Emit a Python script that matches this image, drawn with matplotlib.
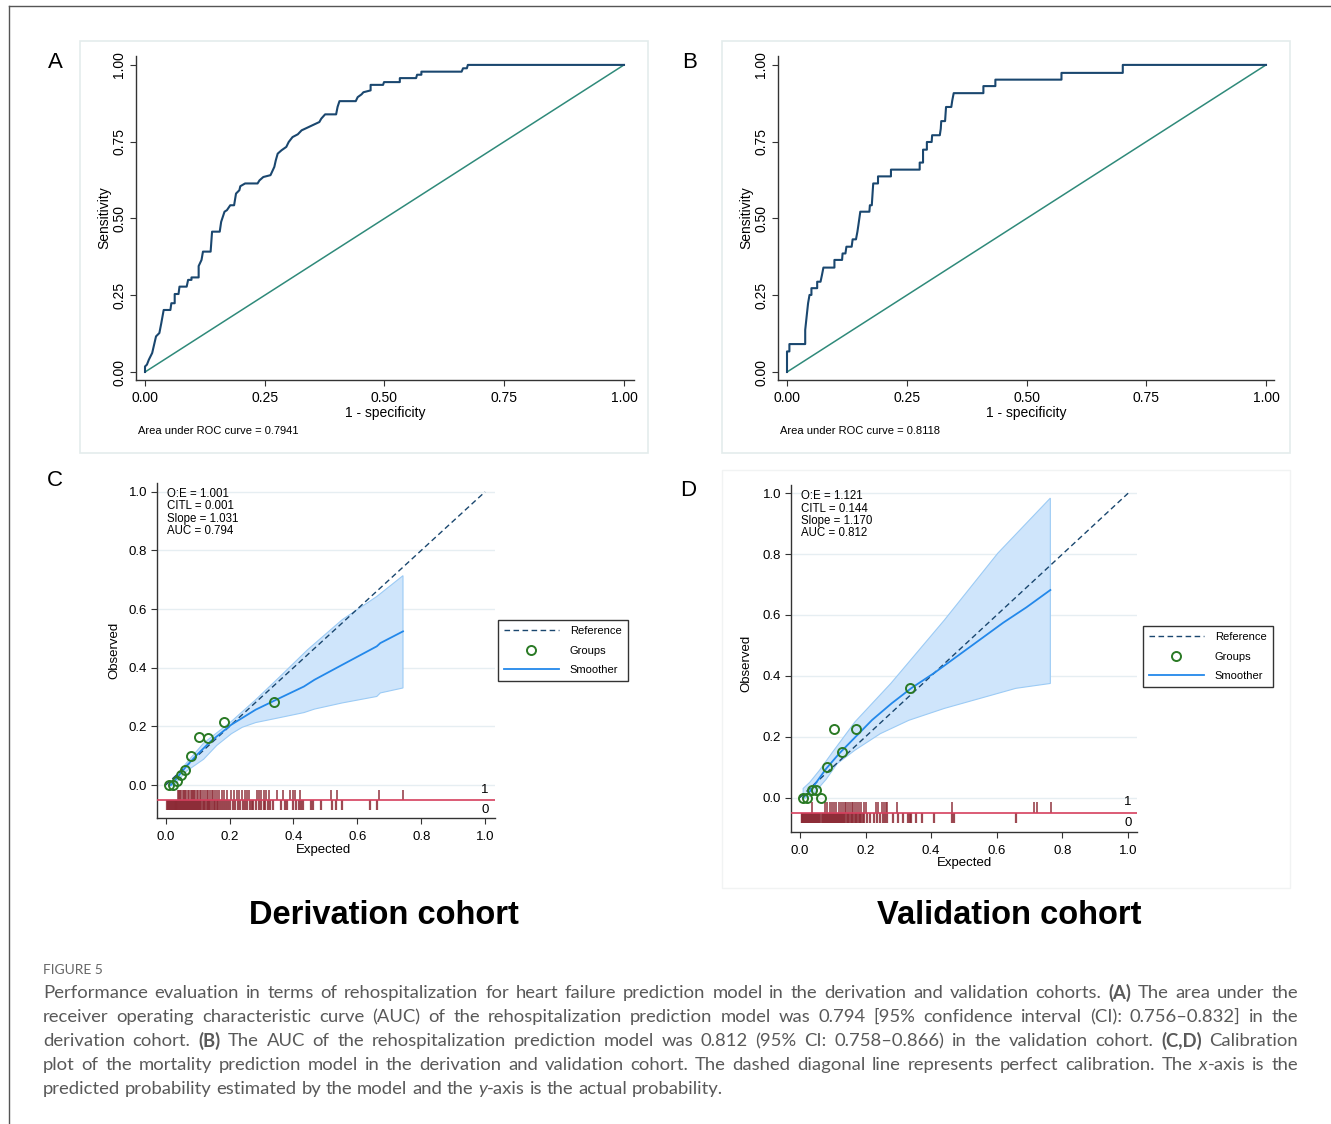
import re
import numpy as np
import matplotlib.pyplot as plt
from matplotlib.patches import Rectangle
from matplotlib.lines import Line2D

W, H = 1331, 1124

# ---- ROC data (panel A: derivation, panel B: validation) ----
roc_a_fpr = [0, 0, 0.004, 0.008, 0.015, 0.023, 0.030, 0.034, 0.039, 0.053,
             0.055, 0.062, 0.062, 0.070, 0.072, 0.087, 0.090, 0.097, 0.097, 0.112,
             0.112, 0.118, 0.121, 0.137, 0.140, 0.156, 0.159, 0.166, 0.171, 0.178,
             0.186, 0.190, 0.197, 0.199, 0.209, 0.235, 0.239, 0.247, 0.262, 0.270,
             0.273, 0.277, 0.285, 0.295, 0.300, 0.308, 0.319, 0.327, 0.338, 0.353,
             0.364, 0.368, 0.376, 0.399, 0.402, 0.406, 0.440, 0.444, 0.452, 0.456,
             0.471, 0.471, 0.497, 0.499, 0.532, 0.532, 0.566, 0.568, 0.577, 0.577,
             0.661, 0.664, 0.672, 0.674, 1.0]
roc_a_tpr = [0, 0.018, 0.024, 0.040, 0.062, 0.116, 0.127, 0.159, 0.202, 0.202,
             0.224, 0.224, 0.254, 0.254, 0.278, 0.278, 0.300, 0.300, 0.308, 0.308,
             0.345, 0.365, 0.392, 0.392, 0.457, 0.457, 0.489, 0.522, 0.527, 0.543,
             0.543, 0.581, 0.592, 0.605, 0.614, 0.614, 0.624, 0.635, 0.641, 0.668,
             0.689, 0.711, 0.722, 0.733, 0.749, 0.765, 0.774, 0.787, 0.795, 0.806,
             0.814, 0.825, 0.839, 0.839, 0.863, 0.882, 0.882, 0.895, 0.904, 0.911,
             0.917, 0.935, 0.935, 0.944, 0.944, 0.957, 0.957, 0.968, 0.968, 0.978,
             0.978, 0.989, 0.989, 1.0, 1.0]

roc_b_fpr = [0, 0, 0.005, 0.005, 0.038, 0.038, 0.041, 0.044, 0.047, 0.051,
             0.051, 0.063, 0.063, 0.070, 0.073, 0.076, 0.099, 0.099, 0.115, 0.116,
             0.122, 0.124, 0.135, 0.137, 0.144, 0.147, 0.149, 0.153, 0.172, 0.173,
             0.177, 0.180, 0.190, 0.190, 0.217, 0.217, 0.277, 0.277, 0.284, 0.284,
             0.292, 0.292, 0.302, 0.303, 0.319, 0.321, 0.322, 0.330, 0.332, 0.343,
             0.345, 0.348, 0.410, 0.410, 0.435, 0.435, 0.573, 0.573, 0.701, 0.701, 1.0]
roc_b_tpr = [0, 0.067, 0.067, 0.091, 0.091, 0.137, 0.181, 0.224, 0.251, 0.251,
             0.273, 0.273, 0.294, 0.294, 0.316, 0.340, 0.340, 0.365, 0.365, 0.386,
             0.386, 0.408, 0.408, 0.432, 0.432, 0.457, 0.478, 0.522, 0.522, 0.543,
             0.543, 0.614, 0.614, 0.637, 0.637, 0.659, 0.659, 0.682, 0.682, 0.724,
             0.724, 0.749, 0.749, 0.771, 0.771, 0.792, 0.817, 0.817, 0.863, 0.863,
             0.884, 0.908, 0.908, 0.931, 0.931, 0.952, 0.952, 0.974, 0.974, 1.0, 1.0]

roc_ticks = [0, 0.25, 0.5, 0.75, 1.0]
roc_ticklabels = ["0.00", "0.25", "0.50", "0.75", "1.00"]
auc_a_text = "Area under ROC curve = 0.7941"
auc_b_text = "Area under ROC curve = 0.8118"

# ---- calibration data (panel C: derivation) ----
cal_c_grp_x = [0.011, 0.024, 0.035, 0.047, 0.060, 0.078, 0.103, 0.133, 0.184, 0.339]
cal_c_grp_y = [0.0, 0.0, 0.012, 0.035, 0.052, 0.098, 0.163, 0.161, 0.215, 0.282]
cal_c_smooth_x = [0.016, 0.027, 0.043, 0.065, 0.098, 0.141, 0.206, 0.282, 0.358,
                  0.433, 0.466, 0.553, 0.661, 0.672, 0.743]
cal_c_smooth_y = [0.0, 0.0125, 0.035, 0.064, 0.103, 0.149, 0.206, 0.257, 0.297,
                  0.336, 0.359, 0.410, 0.473, 0.484, 0.524]
cal_c_upper_x = [0.016, 0.027, 0.065, 0.119, 0.206, 0.282, 0.358, 0.444, 0.553, 0.661, 0.743]
cal_c_upper_y = [0.006, 0.024, 0.075, 0.143, 0.217, 0.291, 0.370, 0.461, 0.564, 0.643, 0.714]
cal_c_lower_x = [0.016, 0.027, 0.065, 0.119, 0.160, 0.206, 0.240, 0.282, 0.358, 0.433,
                 0.466, 0.553, 0.661, 0.672, 0.743]
cal_c_lower_y = [-0.004, 0.001, 0.047, 0.088, 0.135, 0.175, 0.197, 0.213, 0.230, 0.247,
                 0.259, 0.280, 0.302, 0.314, 0.331]
cal_c_events = [0.039, 0.042, 0.046, 0.049, 0.054, 0.058, 0.062, 0.065, 0.069, 0.074,
                0.078, 0.081, 0.085, 0.089, 0.093, 0.098, 0.102, 0.107, 0.112, 0.118,
                0.123, 0.128, 0.133, 0.139, 0.144, 0.149, 0.155, 0.160, 0.168, 0.176,
                0.184, 0.193, 0.206, 0.215, 0.222, 0.231, 0.238, 0.247, 0.255, 0.262,
                0.285, 0.293, 0.298, 0.309, 0.314, 0.323, 0.350, 0.368, 0.390, 0.398,
                0.406, 0.420, 0.518, 0.536, 0.668, 0.743]
cal_c_nonevents = [0.004, 0.007, 0.010, 0.013, 0.016, 0.019, 0.022, 0.025, 0.028, 0.031,
                   0.034, 0.037, 0.040, 0.043, 0.046, 0.049, 0.052, 0.055, 0.058, 0.061,
                   0.064, 0.067, 0.070, 0.073, 0.076, 0.079, 0.082, 0.085, 0.088, 0.091,
                   0.094, 0.097, 0.100, 0.104, 0.108, 0.112, 0.116, 0.120, 0.124, 0.128,
                   0.132, 0.136, 0.140, 0.145, 0.150, 0.155, 0.160, 0.165, 0.171, 0.177,
                   0.183, 0.189, 0.196, 0.203, 0.210, 0.217, 0.225, 0.233, 0.241, 0.249,
                   0.256, 0.265, 0.270, 0.275, 0.284, 0.291, 0.298, 0.307, 0.312, 0.322,
                   0.328, 0.336, 0.362, 0.375, 0.380, 0.399, 0.407, 0.417, 0.425, 0.431,
                   0.454, 0.462, 0.485, 0.522, 0.533, 0.551, 0.641, 0.662]
cal_c_stats = "O:E = 1.001\nCITL = 0.001\nSlope = 1.031\nAUC = 0.794"

# ---- calibration data (panel D: validation) ----
cal_d_grp_x = [0.011, 0.022, 0.036, 0.049, 0.063, 0.082, 0.103, 0.128, 0.171, 0.335]
cal_d_grp_y = [0.0, 0.0, 0.024, 0.026, 0.0, 0.101, 0.227, 0.150, 0.227, 0.359]
cal_d_smooth_x = [0.01, 0.03, 0.05, 0.08, 0.12, 0.17, 0.22, 0.28, 0.34, 0.41, 0.48,
                  0.55, 0.62, 0.69, 0.763]
cal_d_smooth_y = [0.0, 0.02, 0.05, 0.095, 0.145, 0.20, 0.255, 0.31, 0.36, 0.41, 0.465,
                  0.52, 0.575, 0.625, 0.682]
cal_d_upper_x = [0.01, 0.03, 0.06, 0.10, 0.168, 0.277, 0.44, 0.603, 0.763]
cal_d_upper_y = [0.03, 0.05, 0.09, 0.15, 0.249, 0.375, 0.583, 0.803, 0.984]
cal_d_lower_x = [0.01, 0.038, 0.08, 0.114, 0.168, 0.245, 0.332, 0.44, 0.549, 0.658, 0.763]
cal_d_lower_y = [-0.005, 0.008, 0.06, 0.112, 0.156, 0.21, 0.254, 0.293, 0.326, 0.359, 0.375]
cal_d_events = [0.038, 0.076, 0.082, 0.092, 0.098, 0.103, 0.109, 0.120, 0.125, 0.130,
                0.136, 0.141, 0.147, 0.152, 0.158, 0.163, 0.168, 0.174, 0.179, 0.185,
                0.196, 0.201, 0.232, 0.237, 0.250, 0.255, 0.261, 0.264, 0.297, 0.462,
                0.712, 0.721, 0.764]
cal_d_nonevents = [0.005, 0.008, 0.011, 0.014, 0.017, 0.020, 0.023, 0.026, 0.029, 0.032,
                   0.035, 0.038, 0.041, 0.044, 0.047, 0.050, 0.053, 0.056, 0.059, 0.062,
                   0.066, 0.070, 0.073, 0.076, 0.079, 0.082, 0.085, 0.088, 0.091, 0.094,
                   0.097, 0.100, 0.103, 0.106, 0.109, 0.112, 0.115, 0.118, 0.121, 0.124,
                   0.127, 0.131, 0.135, 0.139, 0.143, 0.147, 0.151, 0.155, 0.159, 0.163,
                   0.167, 0.171, 0.175, 0.179, 0.183, 0.187, 0.191, 0.195, 0.204, 0.215,
                   0.225, 0.234, 0.245, 0.253, 0.259, 0.266, 0.283, 0.299, 0.313, 0.328,
                   0.335, 0.340, 0.353, 0.373, 0.410, 0.464, 0.471, 0.658]
cal_d_stats = "O:E = 1.121\nCITL = 0.144\nSlope = 1.170\nAUC = 0.812"

cal_ticks = [0, 0.2, 0.4, 0.6, 0.8, 1.0]
cal_ticklabels = ["0.0", "0.2", "0.4", "0.6", "0.8", "1.0"]

cohort_titles = ["Derivation cohort", "Validation cohort"]

caption_head = "FIGURE 5"
caption_lines = [
    "Performance evaluation in terms of rehospitalization for heart failure prediction model in the derivation and validation cohorts. **(A)** The area under the",
    "receiver operating characteristic curve (AUC) of the rehospitalization prediction model was 0.794 [95% confidence interval (CI): 0.756\u20130.832] in the",
    "derivation cohort. **(B)** The AUC of the rehospitalization prediction model was 0.812 (95% CI: 0.758\u20130.866) in the validation cohort. **(C,D)** Calibration",
    "plot of the mortality prediction model in the derivation and validation cohort. The dashed diagonal line represents perfect calibration. The _x_-axis is the",
    "predicted probability estimated by the model and the _y_-axis is the actual probability.",
]

NAVY = "#1a476f"
TEAL = "#2f8a7a"
MAROON = "#8c2a35"
RUGLINE = "#d6405e"
SMOOTH = "#2388ea"
GREEN = "#2a7a25"
CAP_FONT = ["Lato", "DejaVu Sans"]
CAP_SIZE = 13.3

plt.rcParams['font.family'] = ['Liberation Sans', 'DejaVu Sans']

fig = plt.figure(figsize=(W / 100, H / 100), dpi=100)


def px_axes(left, top, right, bottom):
    return fig.add_axes([left / W, 1 - bottom / H, (right - left) / W, (bottom - top) / H])


def px_rect(x0, y0, x1, y1, color, lw=1.0):
    fig.patches.append(Rectangle((x0 / W, 1 - y1 / H), (x1 - x0) / W, (y1 - y0) / H,
                                 transform=fig.transFigure, fill=False,
                                 edgecolor=color, linewidth=lw, zorder=0))


# outer frame of the figure page
fig.add_artist(Line2D([9 / W, 1.0], [1 - 6 / H, 1 - 6 / H], transform=fig.transFigure,
                      color="#555555", lw=1.0))
fig.add_artist(Line2D([9 / W, 9 / W], [0, 1 - 6 / H], transform=fig.transFigure,
                      color="#555555", lw=1.0))

# light panel boxes
px_rect(80, 41, 648, 453, "#e4ecec", 1.2)
px_rect(722, 41, 1290, 453, "#e4ecec", 1.2)
px_rect(722, 470, 1290, 888, "#f1f3f3", 1.0)


def style_axes(ax):
    for s in ["top", "right"]:
        ax.spines[s].set_visible(False)
    for s in ["left", "bottom"]:
        ax.spines[s].set_color("#333333")
        ax.spines[s].set_linewidth(1.0)
    ax.tick_params(direction="out", length=4, width=0.8, color="#333333")


def roc_panel(ax, fpr, tpr, xlim, auc_text):
    style_axes(ax)
    ax.plot([0, 1], [0, 1], color=TEAL, lw=1.1)
    ax.plot(fpr, tpr, color=NAVY, lw=1.5)
    ax.set_xlim(*xlim)
    ax.set_ylim(-0.026, 1.029)
    ax.set_xticks(roc_ticks)
    ax.set_xticklabels(roc_ticklabels, fontsize=10)
    ax.set_yticks(roc_ticks)
    ax.set_yticklabels(roc_ticklabels, fontsize=10, rotation=90, va="center")
    ax.tick_params(axis="x", pad=4)
    ax.tick_params(axis="y", pad=3)
    ax.text(-0.064, 0.5, "Sensitivity", transform=ax.transAxes, rotation=90,
            ha="center", va="center", fontsize=10)
    ax.text(0.50, -0.102, "1 - specificity", transform=ax.transAxes,
            ha="center", va="center", fontsize=10)
    ax.text(0.005, -0.158, auc_text, transform=ax.transAxes,
            ha="left", va="center", fontsize=8)


ax_a = px_axes(136, 56, 634, 380)
roc_panel(ax_a, roc_a_fpr, roc_a_tpr, (-0.0188, 1.0209), auc_a_text)
ax_b = px_axes(778, 56, 1274, 380)
roc_panel(ax_b, roc_b_fpr, roc_b_tpr, (-0.0188, 1.0167), auc_b_text)


def cal_panel(ax, xlim, ylim, gx, gy, sx, sy, ux, uy, lx, ly, ev, nev, stats,
              rug, lab_y, obs_pos, exp_pos, legend_box):
    style_axes(ax)
    ax.set_xlim(*xlim)
    ax.set_ylim(*ylim)
    ax.set_yticks(cal_ticks)
    ax.set_yticklabels(cal_ticklabels, fontsize=9.5)
    ax.set_xticks(cal_ticks)
    ax.set_xticklabels(cal_ticklabels, fontsize=9.5)
    ax.tick_params(axis="x", pad=5)
    ax.tick_params(axis="y", pad=3)
    ax.yaxis.grid(True, color="#e6eef2", lw=1.0)
    ax.set_axisbelow(True)
    # confidence band of the smoother
    ax.fill(np.r_[ux, lx[::-1]], np.r_[uy, ly[::-1]], facecolor="#cfe5fb",
            edgecolor="#9ccbf5", lw=0.8, zorder=2)
    ref, = ax.plot([0, 1], [0, 1], color=NAVY, lw=1.0, ls=(0, (4, 2.5)), zorder=3,
                   label="Reference")
    grp, = ax.plot(gx, gy, ls="none", marker="o", ms=6.5, mfc="none", mec=GREEN, mew=1.4,
                   zorder=5, label="Groups")
    smo, = ax.plot(sx, sy, color=SMOOTH, lw=1.3, zorder=4, label="Smoother")
    # rug of outcomes
    top1, mid, bot0 = rug
    ax.vlines(ev, mid, top1, color=MAROON, lw=1.4, alpha=0.75, zorder=3)
    ax.vlines(nev, bot0, mid, color=MAROON, lw=1.6, alpha=0.85, zorder=3)
    ax.axhline(mid, color=RUGLINE, lw=1.2, zorder=4)
    ax.text(1.0, lab_y[0], "1", ha="center", va="center", fontsize=9.5)
    ax.text(1.0, lab_y[1], "0", ha="center", va="center", fontsize=9.5)
    ax.text(0.003, ylim[1] - 0.018, stats, ha="left", va="top", fontsize=8.3,
            linespacing=1.02)
    ax.text(obs_pos[0], obs_pos[1], "Observed", transform=ax.transAxes, rotation=90,
            ha="center", va="center", fontsize=9.5)
    ax.text(exp_pos[0], exp_pos[1], "Expected", transform=ax.transAxes,
            ha="center", va="center", fontsize=9.5)
    leg = ax.legend(handles=[ref, grp, smo], loc="upper left",
                    bbox_to_anchor=(legend_box[0] / W, 1 - legend_box[1] / H),
                    bbox_transform=fig.transFigure, borderaxespad=0, fontsize=8,
                    handlelength=4.9, handletextpad=1.0, labelspacing=0.85,
                    borderpad=0.55, numpoints=1, fancybox=False, framealpha=1,
                    edgecolor="#333333")
    leg.get_frame().set_linewidth(1.0)


ax_c = px_axes(157, 483, 495, 818)
cal_panel(ax_c, (-0.027, 1.031), (-0.1125, 1.03), cal_c_grp_x, cal_c_grp_y,
          cal_c_smooth_x, cal_c_smooth_y, np.array(cal_c_upper_x), np.array(cal_c_upper_y),
          np.array(cal_c_lower_x), np.array(cal_c_lower_y), cal_c_events, cal_c_nonevents,
          cal_c_stats, (-0.018, -0.05, -0.086), (-0.016, -0.086),
          (-0.125, 0.499), (0.494, -0.095), (498, 620))

ax_d = px_axes(791, 485, 1137, 832)
cal_panel(ax_d, (-0.027, 1.027), (-0.113, 1.027), cal_d_grp_x, cal_d_grp_y,
          cal_d_smooth_x, cal_d_smooth_y, np.array(cal_d_upper_x), np.array(cal_d_upper_y),
          np.array(cal_d_lower_x), np.array(cal_d_lower_y), cal_d_events, cal_d_nonevents,
          cal_d_stats, (-0.014, -0.049, -0.083), (-0.016, -0.085),
          (-0.128, 0.487), (0.5, -0.09), (1143, 626))

# panel letters
for letter, (x, y) in zip("ABCD", [(55, 63), (690, 63), (55, 480), (688, 490)]):
    fig.text(x / W, 1 - y / H, letter, ha="center", va="center", fontsize=16)

# cohort titles
fig.text(384 / W, 1 - 915 / H, cohort_titles[0], ha="center", va="center",
         fontsize=23.5, fontweight="bold")
fig.text(1009 / W, 1 - 915 / H, cohort_titles[1], ha="center", va="center",
         fontsize=23.5, fontweight="bold")

# caption
fig.text(43 / W, 1 - 970 / H, caption_head, ha="left", va="center", fontsize=10,
         color="#666666", family=CAP_FONT)

renderer = fig.canvas.get_renderer()


def text_width(s):
    t = fig.text(0, 0, s, fontsize=CAP_SIZE, family=CAP_FONT)
    w = t.get_window_extent(renderer).width
    t.remove()
    return w


space_w = text_width("a b") - text_width("ab")
cap_x0, cap_x1 = 43, 1298
seg_re = re.compile(r"\*\*[^*]+\*\*|_[^_]+_|[^*_]+")
for i, line in enumerate(caption_lines):
    y = 1 - (993 + 24 * i) / H
    words = []
    for w in line.split(" "):
        segs = []
        for s in seg_re.findall(w):
            weight, style = "normal", "normal"
            if s.startswith("**"):
                s, weight = s[2:-2], "bold"
            elif s.startswith("_"):
                s, style = s[1:-1], "italic"
            t = fig.text(0, y, s, ha="left", va="center", fontsize=CAP_SIZE, color="#595959",
                         family=CAP_FONT, fontweight=weight, fontstyle=style)
            segs.append((t, t.get_window_extent(renderer).width))
        words.append(segs)
    widths = [sum(wd for _, wd in segs) for segs in words]
    if i < len(caption_lines) - 1:
        gap = (cap_x1 - cap_x0 - sum(widths)) / (len(words) - 1)
    else:
        gap = space_w
    x = cap_x0
    for segs, wd in zip(words, widths):
        for t, sw in segs:
            t.set_x(x / W)
            x += sw
        x += gap

fig.savefig("out.png", dpi=100)
